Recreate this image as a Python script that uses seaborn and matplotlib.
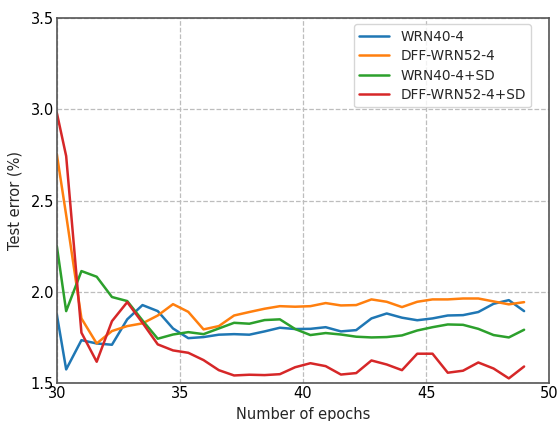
import numpy as np
import pandas as pd
import matplotlib
matplotlib.use("Agg")
import matplotlib.pyplot as plt
import seaborn as sns

epochs = [30.0] + list(np.round(30.38 + 0.62 * np.arange(31), 2))

wrn40 = [1.877, 1.576, 1.736, 1.718, 1.711, 1.85, 1.928, 1.895, 1.80,
         1.747, 1.753, 1.766, 1.769, 1.766, 1.784, 1.804, 1.797,
         1.798, 1.807, 1.784, 1.791, 1.855, 1.882, 1.859, 1.845,
         1.855, 1.871, 1.873, 1.89, 1.935, 1.955, 1.895]
dff52 = [2.753, 2.42, 1.855, 1.718, 1.786, 1.813, 1.828, 1.871, 1.933,
         1.891, 1.795, 1.813, 1.871, 1.89, 1.908, 1.922, 1.919,
         1.922, 1.939, 1.926, 1.928, 1.959, 1.946, 1.917, 1.946,
         1.959, 1.959, 1.964, 1.964, 1.948, 1.932, 1.944]
wrn40_sd = [2.251, 1.895, 2.114, 2.083, 1.972, 1.95, 1.844, 1.744, 1.767,
            1.78, 1.769, 1.80, 1.831, 1.826, 1.846, 1.85, 1.797,
            1.764, 1.775, 1.767, 1.755, 1.751, 1.753, 1.762, 1.789,
            1.807, 1.822, 1.82, 1.798, 1.764, 1.751, 1.793]
dff52_sd = [2.98, 2.743, 1.777, 1.618, 1.84, 1.944, 1.831, 1.713, 1.68,
            1.667, 1.627, 1.572, 1.543, 1.547, 1.545, 1.55, 1.588,
            1.61, 1.594, 1.548, 1.556, 1.625, 1.603, 1.572, 1.662,
            1.662, 1.558, 1.569, 1.614, 1.581, 1.527, 1.592]

names = ["WRN40-4", "DFF-WRN52-4", "WRN40-4+SD", "DFF-WRN52-4+SD"]
series = [wrn40, dff52, wrn40_sd, dff52_sd]
colors = ["#1f77b4", "#ff7f0e", "#2ca02c", "#d62728"]

df = pd.concat([pd.DataFrame({"epoch": epochs, "err": s, "model": n})
                for n, s in zip(names, series)], ignore_index=True)

sns.set_style("white")
plt.rcParams['font.family'] = ['DejaVu Sans']

fig = plt.figure(figsize=(5.57, 4.21), dpi=100)
ax = fig.add_axes([0.102, 0.0895, 0.884, 0.8685])
sns.lineplot(data=df, x="epoch", y="err", hue="model", hue_order=names,
             palette=colors, linewidth=1.8, ax=ax, sort=False)

ax.set_xlim(30, 50)
ax.set_ylim(1.5, 3.5)
ax.set_xticks([30, 35, 40, 45, 50])
ax.set_yticks([1.5, 2.0, 2.5, 3.0, 3.5])
ax.grid(True, linestyle="--", color="#bdbdbd", linewidth=0.9)
ax.tick_params(direction="in", length=4, labelsize=10.5, colors="#444444",
               pad=2)
ax.tick_params(axis='both', labelcolor="black")
for sp in ax.spines.values():
    sp.set_color("#555555")
    sp.set_linewidth(1.2)
ax.set_xlabel("Number of epochs", fontsize=10.5, labelpad=4)
ax.set_ylabel("Test error (%)", fontsize=10.5, labelpad=6)
leg = ax.legend(loc="upper right", bbox_to_anchor=(0.963, 0.982),
                fontsize=9.8, frameon=True, fancybox=True,
                borderaxespad=0.0, handlelength=2.2, labelspacing=0.4)
leg.get_frame().set_edgecolor("#cccccc")

fig.savefig("out.png", dpi=100)
